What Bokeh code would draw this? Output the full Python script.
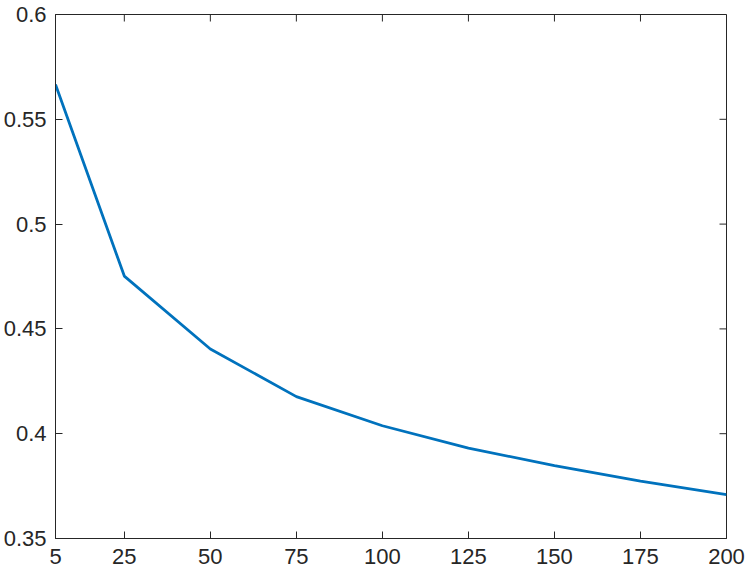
import math
from bokeh.plotting import figure
from bokeh.models import Range1d, FixedTicker
from bokeh.embed import file_html
from bokeh.resources import INLINE

x_vals = [5, 25, 50, 75, 100, 125, 150, 175, 200]
y_vals = [0.5666, 0.4752, 0.4404, 0.4177, 0.4038, 0.3931, 0.3848, 0.3774, 0.3709]
x_ticks = [5, 25, 50, 75, 100, 125, 150, 175, 200]
y_ticks = [0.35, 0.4, 0.45, 0.5, 0.55, 0.6]
y_tick_labels = ["0.35", "0.4", "0.45", "0.5", "0.55", "0.6"]

AX = "#262626"
FONT = "Liberation Sans"
FS = "22px"
X0, X1 = 5, 200
Y0, Y1 = 0.35, 0.6

p = figure(width=746, height=573, output_backend="svg", toolbar_location=None,
           x_range=Range1d(X0, X1), y_range=Range1d(Y0, Y1),
           min_border_left=54, min_border_right=20, min_border_top=14, min_border_bottom=35)
p.xgrid.visible = False
p.ygrid.visible = False
p.outline_line_color = AX
p.outline_line_width = 1
p.background_fill_color = "white"
p.border_fill_color = "white"

p.line(x_vals, y_vals, line_color="#0072BD", line_width=2.8)

def style(ax, ticks, standoff):
    ax.ticker = FixedTicker(ticks=ticks)
    ax.axis_line_color = AX
    ax.major_tick_line_color = AX
    ax.major_tick_in = 7
    ax.major_tick_out = 0
    ax.minor_tick_line_color = None
    ax.major_label_text_font = FONT
    ax.major_label_text_font_size = FS
    ax.major_label_text_color = AX
    ax.major_label_standoff = standoff

style(p.xaxis[0], x_ticks, 10)
style(p.yaxis[0], y_ticks, 9)
p.yaxis[0].major_label_overrides = {t: l for t, l in zip(y_ticks, y_tick_labels)}

# inward ticks on the top and right edges of the box
p.ray(x=x_ticks, y=[Y1] * len(x_ticks), length=7, length_units="screen",
      angle=-math.pi / 2, line_color=AX, line_width=1)
p.ray(x=[X1] * len(y_ticks), y=y_ticks, length=7, length_units="screen",
      angle=math.pi, line_color=AX, line_width=1)

open("out.html", "w").write(file_html(p, INLINE))
